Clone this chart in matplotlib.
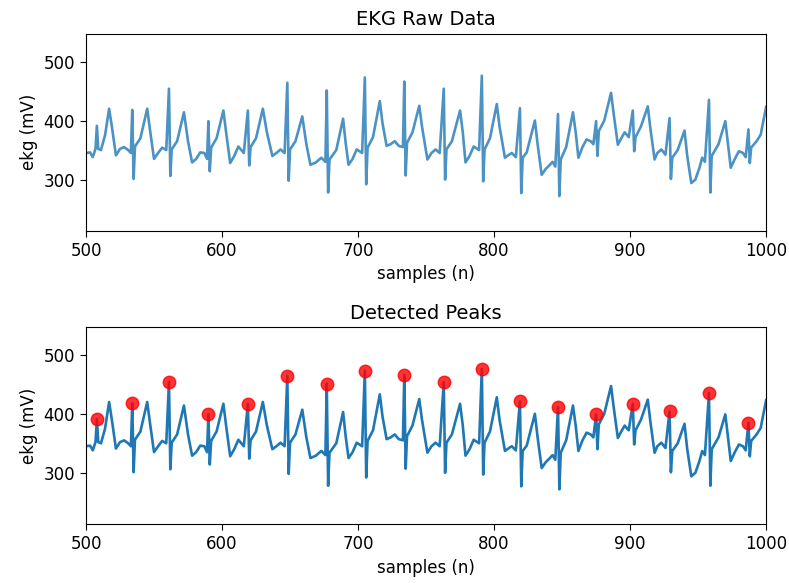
import matplotlib
matplotlib.use("Agg")
import matplotlib.pyplot as plt
import numpy as np

## EKG trace (sample index, value in mV)
samples = [500, 503, 505, 507, 508, 509, 511, 514, 517, 519, 522, 525, 528, 531, 533,
           534, 535, 536, 540, 545, 547, 550, 553, 556, 559,
           561, 562, 563, 567, 572, 575, 578, 581, 584, 587, 589,
           590, 591, 592, 596, 601, 603, 606, 609, 612, 616,
           619, 620, 621, 625, 630, 633, 637, 640, 643, 646,
           648, 649, 650, 654, 659, 662, 665, 669, 673, 676,
           677, 678, 679, 684, 689, 691, 693, 696, 699, 703,
           705, 706, 707, 711, 716, 718, 721, 724, 727, 730, 733,
           734, 735, 736, 740, 745, 747, 751, 754, 757, 760,
           763, 764, 765, 769, 775, 777, 779, 782, 785, 789,
           791, 792, 793, 797, 802, 804, 808, 811, 813, 816,
           819, 820, 821, 824, 830, 832, 835, 838, 841, 843, 845,
           847, 848, 849, 853, 858, 860, 862, 865, 868, 871, 873,
           875, 876, 877, 881, 886, 888, 891, 894, 896, 899,
           902, 903, 904, 908, 913, 915, 918, 920, 923, 926,
           929, 930, 931, 935, 940, 942, 945, 948, 951, 953, 955,
           958, 959, 960, 965, 970, 972, 974, 977, 980, 983, 985,
           987, 988, 989, 993, 996, 1000]
ekg = [345, 346, 338, 352, 391, 352, 350, 375, 420, 390, 341, 352, 355, 350, 345,
       418, 301, 356, 370, 420, 385, 335, 345, 354, 350,
       454, 306, 351, 365, 414, 365, 329, 335, 346, 345, 335,
       399, 314, 354, 370, 417, 380, 328, 340, 356, 345,
       417, 324, 355, 370, 420, 380, 340, 345, 351, 345,
       464, 298, 351, 365, 407, 360, 325, 329, 337, 330,
       451, 278, 334, 350, 403, 360, 325, 335, 351, 345,
       473, 292, 354, 372, 433, 395, 357, 360, 365, 357, 355,
       466, 307, 362, 380, 425, 390, 334, 345, 351, 345,
       454, 300, 351, 365, 417, 380, 329, 340, 356, 350,
       476, 297, 351, 370, 428, 390, 337, 342, 345, 338,
       421, 277, 337, 346, 400, 360, 308, 318, 325, 330, 322,
       411, 272, 334, 355, 414, 380, 337, 355, 368, 365, 360,
       399, 340, 382, 400, 447, 410, 359, 372, 380, 372,
       417, 348, 372, 390, 424, 385, 334, 345, 351, 342,
       404, 301, 337, 350, 383, 340, 294, 300, 320, 337, 330,
       435, 278, 340, 360, 399, 360, 320, 335, 348, 345, 338,
       385, 328, 354, 365, 376, 423]

## detected R peaks (sample index)
peak_samples = [508, 534, 561, 590, 619, 648, 677, 705, 734, 763, 791, 819,
                847, 875, 902, 929, 958, 987]

x = np.array(samples)
y = np.array(ekg)
lookup = dict(zip(samples, ekg))
px = np.array(peak_samples)
py = np.array([lookup[s] for s in peak_samples])

plt.rcParams['font.size'] = 12

fig = plt.figure(figsize=(7.89, 5.83), dpi=100)
ax1 = fig.add_axes([0.109, 0.604, 0.862, 0.338])
ax2 = fig.add_axes([0.109, 0.101, 0.862, 0.338])

ax1.plot(x, y, color='#1f77b4', alpha=0.8, linewidth=1.9)
ax1.set_title("EKG Raw Data", fontsize=14)

ax2.plot(x, y, color='#1f77b4', linewidth=1.9)
ax2.plot(px, py, 'o', color='red', alpha=0.8, markersize=9)
ax2.set_title("Detected Peaks", fontsize=14)

for ax in (ax1, ax2):
    ax.set_xlim(500, 1000)
    ax.set_ylim(213, 547)
    ax.set_yticks([300, 400, 500])
    ax.set_xlabel("samples (n)", fontsize=12)
    ax.set_ylabel("ekg (mV)", fontsize=12)
    ax.tick_params(labelsize=12, length=4.3)

fig.savefig("out.png", dpi=100)
